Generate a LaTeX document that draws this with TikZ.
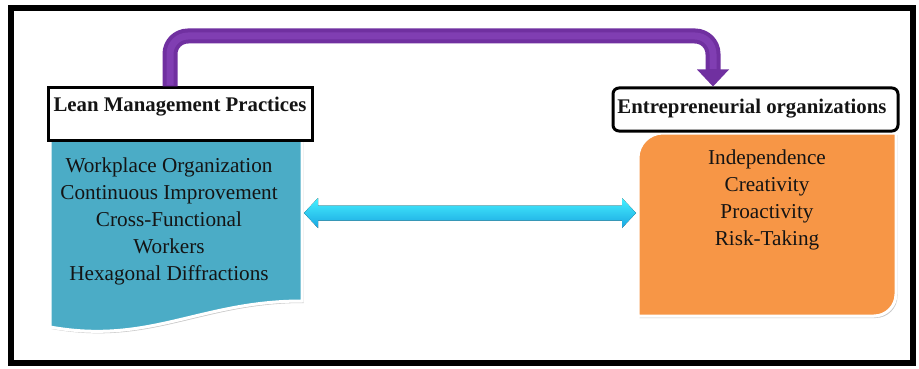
\documentclass[tikz,border=0pt]{standalone}
\usepackage{fontspec}
\setmainfont{Liberation Serif}
\usetikzlibrary{calc,shadows}
\definecolor{leanblue}{RGB}{75,172,198}
\definecolor{entorange}{RGB}{247,150,70}
\definecolor{purp}{RGB}{112,48,160}
\definecolor{purplight}{RGB}{128,62,178}
\definecolor{cyanlight}{RGB}{70,240,255}
\definecolor{cyandark}{RGB}{25,165,225}
\definecolor{txt}{RGB}{20,20,20}
\begin{document}
\begin{tikzpicture}[x=1pt,y=-1pt,
  hdr/.style={draw=black, line width=3pt, fill=white, inner sep=0pt},
  hdrtext/.style={font=\fontsize{20.8}{24}\selectfont\bfseries, text=txt, inner sep=0pt},
  bodytext/.style={font=\fontsize{21.2}{27}\selectfont, text=txt, align=center, inner sep=0pt},
  panelshadow/.style={drop shadow={shadow xshift=1.5pt, shadow yshift=-2pt, opacity=0.35, fill=black!60}},
  panel/.style={draw=white, line width=3pt, panelshadow},
  purplink/.style={line width=15pt, rounded corners=18pt, draw=purp},
  purphigh/.style={line width=7pt, rounded corners=18pt, draw=purplight},
]
\useasboundingbox (0,0) rectangle (919,369);
\fill[white] (0,0) rectangle (919,369);
% frame
\draw[line width=6pt, black] (11,8.5) rectangle (913,363);

% panels
\path[panel, fill=leanblue] (50,140) -- (302,140) -- (302,301)
  .. controls (200,301) and (150,345) .. (50,327) -- cycle;
\path[panel, fill=entorange] (896,133) -- (896,294)
  .. controls (896,306.15) and (886.15,316) .. (874,316) -- (638,316) -- (638,158)
  .. controls (638,144.2) and (649.2,133) .. (663,133) -- cycle;

% headers
\node[hdr, minimum width=264pt, minimum height=52pt] (lean) at (180,114) {};
\node[hdrtext] (leantxt) at (180,107) {Lean Management Practices};
\node[hdr, rounded corners=6pt, minimum width=285pt, minimum height=43pt] (ent) at (755.5,109.5) {};
\node[hdrtext] (enttxt) at (752,109) {Entrepreneurial organizations};

% lists
\node[bodytext] (leanlist) at (169,221) {Workplace Organization\\Continuous Improvement\\Cross-Functional\\Workers\\Hexagonal Diffractions};
\node[bodytext] (entlist) at (767,200) {Independence\\Creativity\\Proactivity\\Risk-Taking};

% purple connector
\coordinate (pl) at (170,0);
\coordinate (pr) at (713,0);
\coordinate (ptop) at (0,36);
\draw[purplink] (lean.north -| pl) -- (ptop -| pl) -- (ptop -| pr) -- ($(ent.north -| pr)+(0,-16)$);
\draw[purphigh] ($(lean.north -| pl)+(0,-1)$) -- (ptop -| pl) -- (ptop -| pr) -- ($(ent.north -| pr)+(0,-17)$);
\fill[purp] (ent.north -| pr) -- ++(-16,-17) -- ++(32,0) -- cycle;

% cyan double arrow
\coordinate (cl) at (304,213);
\coordinate (cr) at (636,213);
\fill[top color=cyanlight, bottom color=cyandark]
  (cl) -- ++(14,-15) -- ++(0,7.5) -- ($(cr)+(-14,-7.5)$) -- ++(0,-7.5) -- (cr)
  -- ++(-14,15) -- ++(0,-7.5) -- ($(cl)+(14,7.5)$) -- ++(0,7.5) -- cycle;
\end{tikzpicture}
\end{document}
